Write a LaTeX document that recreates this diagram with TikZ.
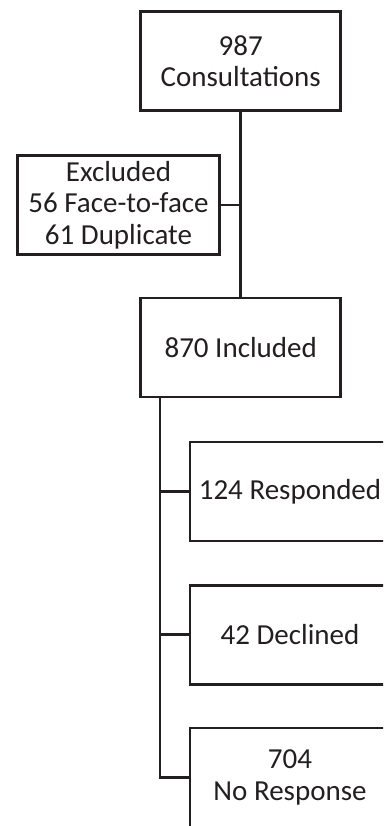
\documentclass[tikz,border=0pt]{standalone}
\usepackage{fontspec}
\setmainfont{Carlito}
\definecolor{ink}{HTML}{231F20}
\begin{document}
\begin{tikzpicture}[x=1pt,y=-1pt,
  box/.style={draw=ink, text=ink, line width=2.7pt, minimum width=200pt, minimum height=99pt,
    align=center, font=\fontsize{29}{31.5}\selectfont, inner sep=0pt},
  conn/.style={draw=ink, line width=2.7pt}]
\useasboundingbox (0,0) rectangle (383,826);
\clip (0,0) rectangle (383,826);
\node[box] (top) at (240.7,61) {987\\Consultations};
\node[box, minimum width=201.5pt] (excl) at (118.5,205) {Excluded\\56 Face-to-face\\61 Duplicate};
\node[box] (inc) at (240.7,347.5) {870 Included};
\node[box] (resp) at (290,491.5) {124 Responded};
\node[box] (decl) at (290,634.8) {42 Declined};
\node[box] (nr) at (290,777.5) {704\\No Response};
\coordinate (tr) at (160,0);
\draw[conn] (top.south) -- (inc.north);
\draw[conn] (excl.east) -- (excl.east -| top.south);
\draw[conn] (inc.south -| tr) -- (nr.west -| tr) -- (nr.west);
\draw[conn] (resp.west -| tr) -- (resp.west);
\draw[conn] (decl.west -| tr) -- (decl.west);
\end{tikzpicture}
\end{document}
